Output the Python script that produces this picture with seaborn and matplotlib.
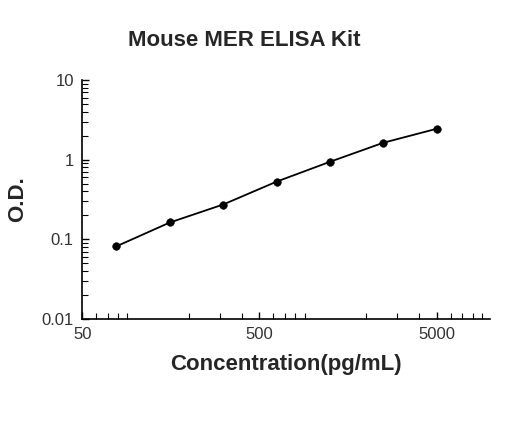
import numpy as np
import pandas as pd
import matplotlib
matplotlib.use("Agg")
import matplotlib.pyplot as plt
import seaborn as sns
from matplotlib.ticker import FixedLocator, FixedFormatter, LogLocator, NullFormatter

concentration = [78.125, 156.25, 312.5, 625, 1250, 2500, 5000]
od = [0.082, 0.163, 0.274, 0.53, 0.94, 1.63, 2.44]
x_ticks = [50, 500, 5000]
y_ticks = [0.01, 0.1, 1, 10]
y_labels = ["0.01", "0.1", "1", "10"]

sns.set_theme(style="white")
plt.rcParams['font.family'] = ['Liberation Sans', 'DejaVu Sans']

df = pd.DataFrame({"conc": concentration, "od": od})

fig = plt.figure(figsize=(5.2, 4.21), dpi=100)
ax = fig.add_axes([0.158, 0.242, 0.784, 0.568])
sns.lineplot(data=df, x="conc", y="od", ax=ax, color="black", linewidth=1.3)
sns.scatterplot(data=df, x="conc", y="od", ax=ax, color="black", s=30, edgecolor="black", zorder=3)

ax.set_xscale("log")
ax.set_yscale("log")
ax.set_xlim(50, 10000)
ax.set_ylim(0.01, 10)
ax.xaxis.set_major_locator(FixedLocator(x_ticks))
ax.xaxis.set_major_formatter(FixedFormatter([str(t) for t in x_ticks]))
ax.xaxis.set_minor_locator(LogLocator(base=10, subs=np.arange(2, 10)))
ax.xaxis.set_minor_formatter(NullFormatter())
ax.yaxis.set_major_locator(FixedLocator(y_ticks))
ax.yaxis.set_major_formatter(FixedFormatter(y_labels))
ax.yaxis.set_minor_locator(LogLocator(base=10, subs=np.arange(2, 10)))
ax.yaxis.set_minor_formatter(NullFormatter())
ax.tick_params(axis="both", which="major", direction="in", length=5, width=1, labelsize=12,
               color="black", labelcolor="#333333", bottom=True, left=True, pad=6)
ax.tick_params(axis="both", which="minor", direction="in", length=4, width=0.8, color="black", bottom=True, left=True)

for s in ["top", "right"]:
    ax.spines[s].set_visible(False)
for s in ["left", "bottom"]:
    ax.spines[s].set_color("black")
    ax.spines[s].set_linewidth(1.2)

ax.set_xlabel("Concentration(pg/mL)", fontsize=16, fontweight="bold", labelpad=8)
ax.set_ylabel("O.D.", fontsize=16, fontweight="bold", labelpad=10)
fig.text(0.47, 0.89, "Mouse MER ELISA Kit", ha="center", fontsize=16, fontweight="bold")

fig.savefig("out.png", dpi=100)
